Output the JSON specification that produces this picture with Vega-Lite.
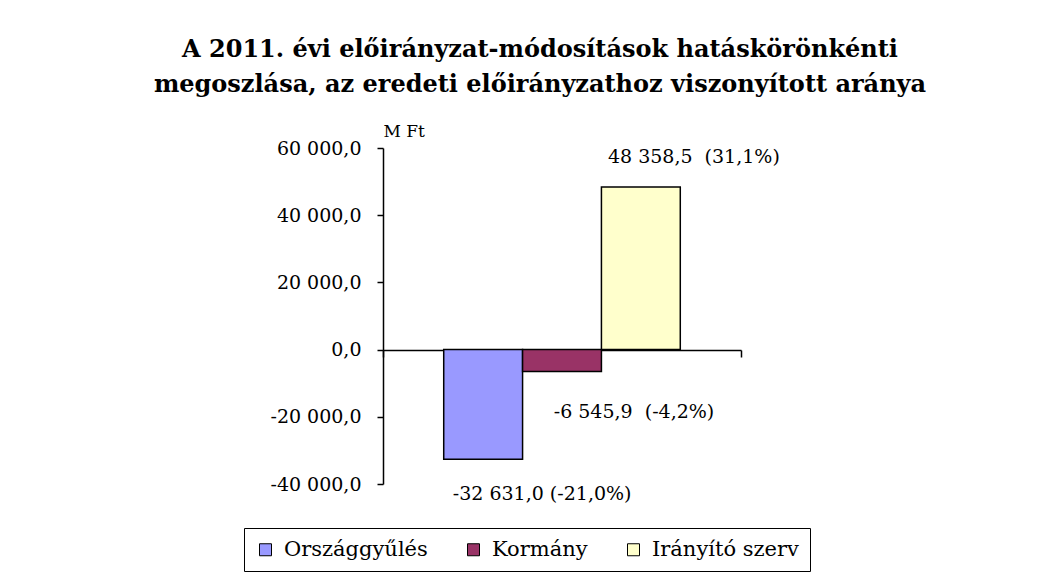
{
  "$schema": "https://vega.github.io/schema/vega-lite/v6.json",
  "width": 358,
  "height": 336,
  "autosize": {"type": "none"},
  "padding": {"left": 383, "top": 148, "right": 297, "bottom": 97},
  "background": "white",
  "config": {
    "view": {"stroke": null},
    "font": "DejaVu Serif",
    "locale": {"number": {"decimal": ",", "thousands": " ", "grouping": [3], "currency": ["", ""], "minus": "-"}}
  },
  "title": {
    "text": ["A 2011. évi előirányzat-módosítások hatáskörönkénti", "megoszlása, az eredeti előirányzathoz viszonyított aránya"],
    "font": "DejaVu Serif",
    "fontSize": 24,
    "fontWeight": "bold",
    "color": "black",
    "anchor": "middle",
    "dx": -22,
    "lineHeight": 35,
    "offset": 25
  },
  "data": {
    "values": [
      {"cat": "2011", "series": "Országgyűlés", "value": -32631.0, "label": "-32 631,0 (-21,0%)"},
      {"cat": "2011", "series": "Kormány", "value": -6545.9, "label": "-6 545,9 \u00a0(-4,2%)"},
      {"cat": "2011", "series": "Irányító szerv", "value": 48358.5, "label": "48 358,5 \u00a0(31,1%)"}
    ]
  },
  "encoding": {
    "x": {
      "field": "cat", "type": "nominal",
      "scale": {"paddingInner": 0, "paddingOuter": 0},
      "axis": {"orient": "bottom", "offset": -134, "labels": false, "title": null, "tickBand": "extent", "ticks": true, "tickSize": 7, "tickColor": "black", "domainColor": "black", "domainWidth": 1.5, "tickWidth": 1.5}
    },
    "xOffset": {
      "field": "series", "type": "nominal",
      "sort": ["Országgyűlés", "Kormány", "Irányító szerv"],
      "scale": {"paddingInner": 0, "paddingOuter": 0.77}
    },
    "y": {
      "field": "value", "type": "quantitative",
      "scale": {"domain": [-40000, 60000], "nice": false, "zero": false},
      "axis": {
        "values": [-40000, -20000, 0, 20000, 40000, 60000],
        "format": ",.1f",
        "grid": false,
        "title": "M Ft",
        "titleAngle": 0,
        "titleAlign": "left",
        "titleBaseline": "bottom",
        "titleX": 0,
        "titleY": -8,
        "titleFont": "DejaVu Serif",
        "titleFontSize": 17,
        "titleFontWeight": "normal",
        "titleColor": "black",
        "labelFont": "DejaVu Serif",
        "labelFontSize": 19,
        "labelColor": "black",
        "labelPadding": 16,
        "tickSize": 6,
        "tickColor": "black",
        "domainColor": "black",
        "domainWidth": 1.5,
        "tickWidth": 1.5
      }
    }
  },
  "layer": [
    {
      "mark": {"type": "bar", "stroke": "black", "strokeWidth": 1.5},
      "encoding": {
        "color": {
          "field": "series", "type": "nominal",
          "sort": ["Országgyűlés", "Kormány", "Irányító szerv"],
          "scale": {"domain": ["Országgyűlés", "Kormány", "Irányító szerv"], "range": ["#9999FF", "#993366", "#FFFFCC"]},
          "legend": {
            "orient": "none",
            "legendX": -139,
            "legendY": 380,
            "direction": "horizontal",
            "title": null,
            "strokeColor": "black",
            "padding": 11,
            "symbolType": "square",
            "symbolSize": 144,
            "symbolStrokeColor": "black",
            "symbolStrokeWidth": 1,
            "labelFont": "DejaVu Serif",
            "labelFontSize": 21,
            "labelColor": "black",
            "columnPadding": 35,
            "labelOffset": 8
          }
        }
      }
    },
    {
      "transform": [{"filter": "datum.series === 'Irányító szerv'"}],
      "mark": {"type": "text", "dx": 53, "dy": -30, "fontSize": 19, "font": "DejaVu Serif", "color": "black"},
      "encoding": {"text": {"field": "label"}}
    },
    {
      "transform": [{"filter": "datum.series === 'Kormány'"}],
      "mark": {"type": "text", "dx": 72, "dy": 40, "fontSize": 19, "font": "DejaVu Serif", "color": "black"},
      "encoding": {"text": {"field": "label"}}
    },
    {
      "transform": [{"filter": "datum.series === 'Országgyűlés'"}],
      "mark": {"type": "text", "dx": 59, "dy": 35, "fontSize": 19, "font": "DejaVu Serif", "color": "black"},
      "encoding": {"text": {"field": "label"}}
    }
  ]
}
